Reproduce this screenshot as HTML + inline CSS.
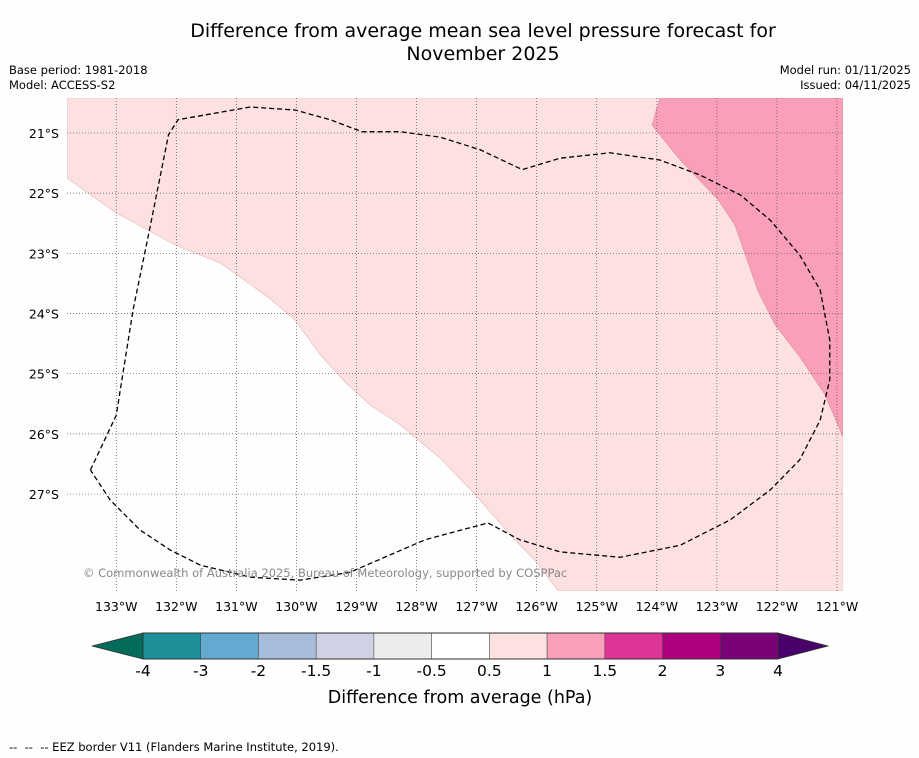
<!DOCTYPE html>
<html><head><meta charset="utf-8"><style>
body{margin:0;background:#fff;font-family:"DejaVu Sans","Liberation Sans",sans-serif;}
#wrap{position:relative;width:919px;height:758px;overflow:hidden;background:#fefefe}
.t{position:absolute;color:#000;white-space:nowrap}
</style></head><body>
<div id="wrap">
<div class="t" style="left:0;width:966px;top:20px;text-align:center;font-size:19px;line-height:23px">Difference from average mean sea level pressure forecast for<br>November 2025</div>
<div class="t" style="left:9px;top:63px;font-size:11.5px;line-height:15px">Base period: 1981-2018<br>Model: ACCESS-S2</div>
<div class="t" style="right:8px;top:63px;font-size:11.5px;line-height:15px;text-align:right">Model run: 01/11/2025<br>Issued: 04/11/2025</div>
<div class="t" style="left:9px;top:740px;font-size:11.5px">--&nbsp; --&nbsp; -- EEZ border V11 (Flanders Marine Institute, 2019).</div>
<svg id="svg" width="919" height="758" style="position:absolute;left:0;top:0"></svg>
</div>
<script>
const lonTicks=[-133,-132,-131,-130,-129,-128,-127,-126,-125,-124,-123,-122,-121];
const latTicks=[-21,-22,-23,-24,-25,-26,-27];
const lightLon=[-133.82,-133.00,-132.02,-131.27,-130.47,-130.02,-129.60,-129.18,-128.77,-128.27,-127.61,-127.02,-126.44,-126.03,-125.64];
const lightLat=[-21.75,-22.33,-22.86,-23.16,-23.73,-24.11,-24.69,-25.15,-25.52,-25.85,-26.40,-27.01,-27.68,-28.10,-28.61];
const darkLon=[-123.95,-124.08,-123.61,-122.98,-122.70,-122.31,-122.03,-121.62,-121.20,-120.90];
const darkLat=[-20.42,-20.87,-21.45,-22.11,-22.53,-23.64,-24.19,-24.72,-25.35,-26.05];
const eezLon=[-133.43,-133.00,-132.72,-132.43,-132.13,-131.97,-130.77,-130.02,-129.44,-128.91,-128.27,-127.61,-126.94,-126.24,-125.61,-124.78,-123.95,-123.28,-122.61,-122.11,-121.62,-121.28,-121.12,-121.12,-121.28,-121.62,-122.11,-122.78,-123.61,-124.61,-125.61,-126.28,-126.81,-127.27,-127.86,-128.44,-129.11,-129.94,-130.77,-131.60,-132.10,-132.60,-133.10,-133.43];
const eezLat=[-26.60,-25.69,-23.94,-22.53,-21.03,-20.78,-20.57,-20.62,-20.78,-20.98,-20.98,-21.07,-21.28,-21.61,-21.42,-21.33,-21.45,-21.70,-22.03,-22.45,-23.03,-23.61,-24.44,-25.10,-25.77,-26.43,-26.93,-27.43,-27.85,-28.05,-27.96,-27.76,-27.48,-27.60,-27.76,-28.01,-28.30,-28.43,-28.38,-28.18,-27.93,-27.60,-27.10,-26.60];
const cbLabels=["-4","-3","-2","-1.5","-1","-0.5","0.5","1","1.5","2","3","4"];
const cbColors=["#1c8f99","#64a9cf","#a7bbdb","#d1d1e6","#ececef","#ffffff","#fde0e0","#f9a0b8","#dd3497","#ae017e","#7a0177"];
const X0=67,X1=843,Y0=98,Y1=591,LON0=-133.82,LON1=-120.90,LAT0=-20.42,LAT1=-28.61;
const xs=l=>X0+(l-LON0)/(LON1-LON0)*(X1-X0);
const ys=l=>Y0+(l-LAT0)/(LAT1-LAT0)*(Y1-Y0);
const NS="http://www.w3.org/2000/svg",svg=document.getElementById("svg");
function mk(t,a,p){const e=document.createElementNS(NS,t);for(const k in a)e.setAttribute(k,a[k]);(p||svg).appendChild(e);return e;}
const cp=mk("clipPath",{id:"clip"});mk("rect",{x:X0,y:Y0,width:X1-X0,height:Y1-Y0},cp);
const g=mk("g",{"clip-path":"url(#clip)"});
let pts=[[X1,Y0],[X0,Y0]];
for(let i=0;i<lightLon.length;i++)pts.push([xs(lightLon[i]),ys(lightLat[i])]);
pts.push([X1,Y1]);
let e=mk("polygon",{points:pts.map(p=>p.join(",")).join(" "),fill:"#fde0e0",stroke:"#e3b4b8","stroke-width":0.6},g);


pts=[];for(let i=0;i<darkLon.length;i++)pts.push([xs(darkLon[i]),ys(darkLat[i])]);
pts.push([X1,Y0]);
e=mk("polygon",{points:pts.map(p=>p.join(",")).join(" "),fill:"#f9a0b8",stroke:"#d890a4","stroke-width":0.6},g);


lonTicks.forEach(l=>{const x=xs(l);
 const ln=mk("line",{x1:x,x2:x,y1:Y0,y2:Y1,stroke:"#555","stroke-width":0.7,"stroke-dasharray":"1,2"},g);
 
 
 const t=mk("text",{x:x,y:611,"text-anchor":"middle","font-size":12.5,fill:"#000"});t.textContent=Math.abs(l)+"°W";
 
 });
latTicks.forEach(l=>{const y=ys(l);
 const ln=mk("line",{x1:X0,x2:X1,y1:y,y2:y,stroke:"#555","stroke-width":0.7,"stroke-dasharray":"1,2"},g);
 
 
 const t=mk("text",{x:59,y:y+5,"text-anchor":"end","font-size":12.5,fill:"#000"});t.textContent=Math.abs(l)+"°S";
 
 });
pts=[];for(let i=0;i<eezLon.length;i++)pts.push([xs(eezLon[i]),ys(eezLat[i])]);
e=mk("polyline",{points:pts.map(p=>p.join(",")).join(" "),fill:"none",stroke:"#000","stroke-width":1.3,"stroke-dasharray":"5,3","stroke-linejoin":"round"},g);


e=mk("text",{x:83,y:577,"font-size":11.5,fill:"#888"});e.textContent="© Commonwealth of Australia 2025, Bureau of Meteorology, supported by COSPPac";


const CB0=143,CB1=778,CY=633,CH=26,w=(CB1-CB0)/cbColors.length;
e=mk("polygon",{points:`92,646 ${CB0},${CY} ${CB0},${CY+CH}`,fill:"#016c59",stroke:"#333","stroke-width":0.8});


e=mk("polygon",{points:`828,646 ${CB1},${CY} ${CB1},${CY+CH}`,fill:"#49006a",stroke:"#333","stroke-width":0.8});


cbColors.forEach((c,i)=>{const r=mk("rect",{x:CB0+i*w,y:CY,width:w,height:CH,fill:c,stroke:"#444","stroke-width":0.5});
 
 });
mk("rect",{x:CB0,y:CY,width:CB1-CB0,height:CH,fill:"none",stroke:"#333","stroke-width":1});
cbLabels.forEach((s,i)=>{const t=mk("text",{x:CB0+i*w,y:676,"text-anchor":"middle","font-size":15.5,fill:"#000"});t.textContent=s;
 
 });
e=mk("text",{x:460,y:703,"text-anchor":"middle","font-size":17.5,fill:"#000"});e.textContent="Difference from average (hPa)";


</script>
</body></html>
